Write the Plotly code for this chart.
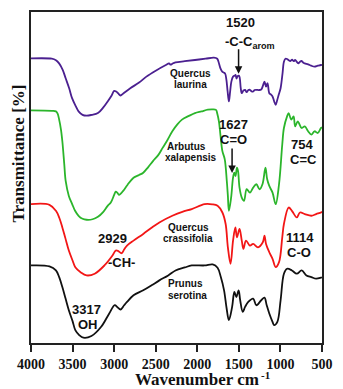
import plotly.graph_objects as go

# ---------------- data (wavenumber cm-1, offset transmittance a.u.) ----------------
wn_laurina = [4000, 3750, 3700, 3662, 3620, 3583, 3540, 3506, 3460, 3428, 3380, 3331, 3270, 3195, 3130,
              3078, 3030, 3000, 2975, 2953, 2923, 2890, 2806, 2700, 2612, 2500, 2378, 2340, 2320, 2300,
              2262, 2150, 2028, 1900, 1800, 1760, 1745, 1720, 1700, 1680, 1665, 1650, 1635, 1620, 1605,
              1590, 1570, 1550, 1540, 1528, 1515, 1500, 1490, 1478, 1465, 1445, 1425, 1406, 1385, 1367,
              1345, 1328, 1310, 1290, 1260, 1231, 1210, 1192, 1173, 1155, 1134, 1115, 1095, 1075, 1057,
              1040, 1020, 998, 975, 958, 940, 920, 900, 882, 860, 840, 823, 800, 784, 765, 745, 725, 707,
              667, 630, 590, 550, 512, 500]
t_laurina = [286.3, 286, 284.5, 281.3, 275, 266.3, 256, 246.3, 238, 233, 229.5, 228.7, 229.5, 231.3, 237,
             243, 249, 253.7, 253, 251.3, 249, 251, 256.3, 262, 268, 274, 279.7, 281.3, 280, 281,
             282.3, 283.5, 284.7, 286, 287, 286, 283, 276, 273, 272, 271, 265, 253, 243, 253,
             263, 268, 269, 269.7, 266, 268.5, 269, 267, 257, 251.3, 254, 254.7, 252.3, 254.5, 254.7,
             253, 253, 254.5, 254.7, 254.5, 255, 259, 263, 258, 261.3, 251.3, 250, 248, 243, 239.7,
             244, 250, 256.3, 271, 283, 286, 285.7, 284.5, 283.7, 285, 283.5, 284.7, 282.5, 281.3, 283, 283.7, 282, 281.3,
             280.3, 279, 278, 279, 279.7, 279.5]

wn_xalapensis = [4000, 3750, 3700, 3681, 3662, 3640, 3623, 3600, 3583, 3545, 3506, 3470, 3428, 3380, 3331,
                 3260, 3195, 3130, 3078, 3040, 3000, 2981, 2960, 2942, 2923, 2892, 2840, 2767, 2700, 2650,
                 2590, 2533, 2470, 2417, 2360, 2300, 2242, 2184, 2100, 2028, 1950, 1873, 1815, 1775, 1760,
                 1740, 1720, 1698, 1670, 1645, 1632, 1620, 1593, 1570, 1555, 1540, 1523, 1510, 1492, 1465,
                 1438, 1406, 1367, 1328, 1290, 1251, 1215, 1180, 1160, 1134, 1095, 1057, 1017, 978, 958,
                 920, 901, 870, 842, 823, 792, 745, 707, 667, 628, 590, 551, 512, 500]
t_xalapensis = [234, 233.5, 233, 231, 225, 215, 203, 180, 163, 148, 140, 133, 128, 125, 124,
                124.5, 127, 132, 138, 141.3, 149, 152.3, 151, 149, 150, 153, 159, 166.3, 169, 171.3,
                177, 183, 189, 196.3, 204, 213, 219.7, 224.7, 228.5, 231.3, 233, 234.7, 235, 234.5, 231,
                223, 208, 193, 185, 163, 148, 133, 146.3, 166.3, 171.3, 168, 176.3, 173, 156.3, 146.3,
                143, 154.7, 151.3, 156.3, 159.7, 154.7, 160, 176.3, 165, 158, 151.3, 139.7, 159.7, 199.7, 216.3,
                228, 231.3, 224.7, 228, 218, 223, 216.3, 218, 213, 209.7, 213, 211.3, 216.3, 217]

wn_crassifolia = [4000, 3778, 3700, 3660, 3623, 3585, 3545, 3500, 3467, 3400, 3331, 3234, 3117, 3020, 2981,
                  2950, 2911, 2880, 2845, 2767, 2650, 2550, 2456, 2300, 2180, 2067, 1912, 1820, 1756, 1698,
                  1659, 1632, 1600, 1570, 1542, 1523, 1492, 1465, 1445, 1414, 1367, 1328, 1270, 1212, 1192,
                  1173, 1134, 1095, 1057, 1017, 978, 958, 901, 862, 803, 765, 707, 628, 570, 512, 500]
t_crassifolia = [139.7, 139, 133, 126, 116.3, 105, 93, 83, 76.3, 71, 68, 69.7, 78, 88, 93,
                 92.5, 90.3, 94, 98, 103, 109.7, 116, 121.3, 128, 132, 134.7, 139.7, 139.5, 138, 131.3,
                 119.7, 96.3, 79.7, 103, 116.3, 106.3, 114.7, 103, 94.7, 103, 98, 99.7, 96.3, 101.3, 108,
                 99.7, 91.3, 84.7, 76.3, 81.3, 106.3, 119.7, 136.3, 133, 126.3, 131.3, 129.7, 128, 129.7, 131.3, 132]

wn_serotina = [4000, 3778, 3700, 3660, 3623, 3585, 3545, 3500, 3467, 3420, 3370, 3273, 3156, 3059, 2993,
               2960, 2923, 2880, 2845, 2767, 2650, 2550, 2456, 2350, 2262, 2150, 2067, 1912, 1815, 1756,
               1717, 1678, 1647, 1620, 1581, 1554, 1530, 1503, 1484, 1453, 1425, 1387, 1328, 1290, 1231,
               1192, 1165, 1134, 1095, 1076, 1037, 998, 958, 920, 862, 803, 745, 687, 628, 570, 512, 500]
t_serotina = [78, 77, 73, 66, 56.3, 45, 33, 22, 13, 8, 5.3, 7, 16.3, 29.7, 38,
              36, 33.7, 38, 41.3, 48, 53, 58, 63, 68, 73, 76, 78, 78, 79, 75.7,
              66.3, 53, 34.7, 23, 36.3, 51.3, 46.3, 53, 43, 31.3, 36.3, 41.3, 44.7, 38, 43,
              45.7, 38, 29.7, 21.3, 18, 21.3, 43, 69.7, 74.7, 73, 69.7, 73, 68, 66.3, 64.7, 65.7, 66]

x_ticks = [4000, 3500, 3000, 2500, 2000, 1500, 1000, 500]
x_tick_labels = ["4000", "3500", "3000", "2500", "2000", "1500", "1000", "500"]

# ---------------- figure ----------------
W, H = 343, 389
ML, MR, MT, MB = 31, 12, 10, 46
PW, PH = W - ML - MR, H - MT - MB

def px(xp, yp):
    return (xp - ML) / PW, (H - MB - yp) / PH

fig = go.Figure()
series = [
    (wn_laurina, t_laurina, "#4b2090"),
    (wn_xalapensis, t_xalapensis, "#2bb52b"),
    (wn_crassifolia, t_crassifolia, "#f21616"),
    (wn_serotina, t_serotina, "#111111"),
]
for xs, ys, col in series:
    fig.add_trace(go.Scatter(x=xs, y=ys, mode="lines", line=dict(color=col, width=1.8),
                             line_shape="spline", showlegend=False, hoverinfo="skip"))

SANS = "Liberation Sans, Arial, sans-serif"
SERIF = "Liberation Serif, Times New Roman, serif"

ann = []
def text(xp, yp, s, size=13, family=SANS, xanchor="center"):
    x, y = px(xp, yp)
    ann.append(dict(x=x, y=y, xref="paper", yref="paper", text=s,
                    showarrow=False, xanchor=xanchor, yanchor="middle",
                    font=dict(family=family, size=size, color="#111", weight="bold")))

def arrow(xp, y_top, y_tip):
    x, y = px(xp, y_tip)
    ann.append(dict(x=x, y=y, xref="paper", yref="paper", text="", showarrow=True,
                    ax=0, ay=-(y_tip - y_top), arrowhead=2, arrowsize=1, arrowwidth=1.5,
                    arrowcolor="#111"))

text(246.7, 20.7, "1520")
text(257, 40.7, "-C-C<sub>arom</sub>")
arrow(245, 46, 72)
text(195, 71.7, "Quercus", size=10)
text(195, 83.3, "laurina", size=10)
text(240, 123.3, "1627")
text(240, 138.3, "C=O")
arrow(238.3, 146, 172)
text(310, 143.3, "754")
text(311.7, 158.3, "C=C")
text(191.7, 145, "Arbutus", size=10)
text(196, 156.7, "xalapensis", size=10)
text(193, 226.7, "Quercus", size=10)
text(193.3, 237.8, "crassifolia", size=10)
text(115, 238.3, "2929")
text(124, 261.7, "-CH-")
text(308.3, 236.7, "1114")
text(307, 251.5, "C-O")
text(190, 283.3, "Prunus", size=10)
text(192, 295, "serotina", size=10)
text(88.3, 309.5, "3317")
text(90, 324, "OH")

# axis titles
x, y = px(268, 380)
ann.append(dict(x=x, y=y, xref="paper", yref="paper", text="Wavenumber cm",
                showarrow=False, xanchor="right", yanchor="middle",
                font=dict(family=SERIF, size=17, color="#111", weight="bold")))
x, y = px(266, 375.5)
ann.append(dict(x=x, y=y, xref="paper", yref="paper", text="-1",
                showarrow=False, xanchor="left", yanchor="middle",
                font=dict(family=SERIF, size=11, color="#111", weight="bold")))
x, y = px(18, 152)
ann.append(dict(x=x, y=y, xref="paper", yref="paper", text="Transmittance [%]",
                showarrow=False, xanchor="center", yanchor="middle", textangle=-90,
                font=dict(family=SERIF, size=17, color="#111", weight="bold")))

fig.update_layout(
    width=W, height=H,
    margin=dict(l=ML, r=MR, t=MT, b=MB, pad=0),
    paper_bgcolor="white", plot_bgcolor="white",
    annotations=ann,
    xaxis=dict(range=[4000, 500], tickvals=x_ticks,
               ticktext=[f"<b>{t}</b>" for t in x_tick_labels],
               ticks="outside", ticklen=7, tickwidth=1.5, tickcolor="#222",
               showline=True, linecolor="#222", linewidth=1.5, mirror=True,
               showgrid=False, zeroline=False,
               tickfont=dict(family=SERIF, size=14, color="#111")),
    yaxis=dict(range=[0, PH], showticklabels=False, ticks="",
               showline=True, linecolor="#222", linewidth=1.5, mirror=True,
               showgrid=False, zeroline=False),
)

fig.write_html("out.html")
